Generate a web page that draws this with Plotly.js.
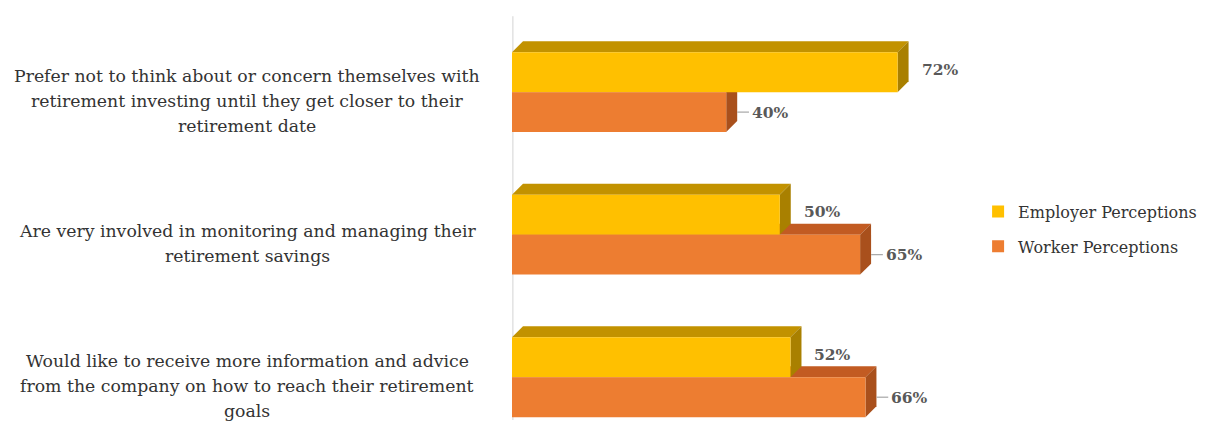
<!DOCTYPE html>
<html>
<head>
<meta charset="utf-8">
<script src="https://cdn.plot.ly/plotly-3.0.1.min.js"></script>
<style>html,body{margin:0;padding:0;background:#fff;}#chart{width:1205px;height:421px;}</style>
</head>
<body>
<div id="chart"></div>
<script>
// ---- data ----
const categories = [
  "Prefer not to think about or concern themselves with<br>retirement investing until they get closer to their<br>retirement date",
  "Are very involved in monitoring and managing their<br>retirement savings",
  "Would like to receive more information and advice<br>from the company on how to reach their retirement<br>goals"
];
const seriesNames = ["Employer Perceptions", "Worker Perceptions"];
const employerValues = [72, 50, 52];
const workerValues = [40, 65, 66];

// ---- styling ----
const FONT = "DejaVu Serif";
const yellow = {front: "#FFC000", top: "#C29200", side: "#A98000"};
const orange = {front: "#ED7D31", top: "#C25B22", side: "#A9501C"};
const BW = 0.28;          // bar thickness (category units)
const DX = 2.05;          // depth in x units
const DY = 0.077;         // depth in y units
const xMax = 90;

const idx = categories.map((c, i) => i);

const traces = [
  {type: "bar", orientation: "h", name: seriesNames[0], x: employerValues, y: idx,
   width: BW, offset: -BW, marker: {color: yellow.front, line: {width: 0}},
   legendgroup: "a", hoverinfo: "x+name"},
  {type: "bar", orientation: "h", name: seriesNames[1], x: workerValues, y: idx,
   width: BW, offset: 0, marker: {color: orange.front, line: {width: 0}},
   legendgroup: "b", hoverinfo: "x+name"}
];

const shapes = [];
// back-wall shadow (soft gradient imitation)
[[-2.2, 0.3, 0.05], [-1.5, 0.3, 0.07], [-0.8, 0.3, 0.08]].forEach(s => {
  shapes.push({type: "rect", xref: "x", yref: "paper", x0: s[0], x1: s[1], y0: 0, y1: 1.03,
    fillcolor: "rgba(110,110,110," + s[2] + ")", line: {width: 0}, layer: "below"});
});

idx.forEach(i => {
  const c = i, w = BW;
  const v = employerValues[i], v2 = workerValues[i];
  // orange (lower) faces first
  shapes.push({type: "path", xref: "x", yref: "y", layer: "below", line: {width: 0}, fillcolor: orange.top,
    path: `M 0,${c} L ${v2},${c} L ${v2 + DX},${c - DY} L ${DX},${c - DY} Z`});
  shapes.push({type: "path", xref: "x", yref: "y", layer: "below", line: {width: 0}, fillcolor: orange.side,
    path: `M ${v2},${c} L ${v2},${c + w} L ${v2 + DX},${c + w - DY} L ${v2 + DX},${c - DY} Z`});
  // yellow (upper) faces
  shapes.push({type: "path", xref: "x", yref: "y", layer: "below", line: {width: 0}, fillcolor: yellow.top,
    path: `M 0,${c - w} L ${v},${c - w} L ${v + DX},${c - w - DY} L ${DX},${c - w - DY} Z`});
  shapes.push({type: "path", xref: "x", yref: "y", layer: "below", line: {width: 0}, fillcolor: yellow.side,
    path: `M ${v},${c - w} L ${v},${c} L ${v + DX},${c - DY} L ${v + DX},${c - w - DY} Z`});
  // leader line for worker label
  shapes.push({type: "line", xref: "x", yref: "y", layer: "above",
    x0: v2 + DX, x1: v2 + DX + 2.2, y0: c + w / 2, y1: c + w / 2,
    line: {color: "#A6A6A6", width: 1.2}});
});

const annotations = [];
idx.forEach(i => {
  annotations.push({xref: "x", yref: "y", x: employerValues[i], y: i - BW / 2, yshift: 3,
    text: employerValues[i] + "%", showarrow: false, xanchor: "left", xshift: 22,
    font: {family: FONT, size: 15.5, color: "#595959", weight: "bold"}});
  annotations.push({xref: "x", yref: "y", x: workerValues[i], y: i + BW / 2,
    text: workerValues[i] + "%", showarrow: false, xanchor: "left", xshift: 24,
    font: {family: FONT, size: 15.5, color: "#595959", weight: "bold"}});
  // category label, one annotation per line to get wider line spacing
  const lines = categories[i].split("<br>");
  const lh = 25;
  lines.forEach((ln, k) => {
    annotations.push({xref: "paper", yref: "y", x: -265 / 482, y: i,
      yshift: -9 - (k - (lines.length - 1) / 2) * lh,
      text: ln, showarrow: false, xanchor: "center",
      font: {family: FONT, size: 17.3, color: "#333333"}});
  });
});

const layout = {
  width: 1205, height: 421,
  margin: {l: 512, r: 211, t: 28, b: 1},
  paper_bgcolor: "#fff", plot_bgcolor: "#fff",
  barmode: "overlay",
  xaxis: {range: [0, xMax], visible: false, fixedrange: true},
  yaxis: {range: [2.3, -0.45], visible: false, fixedrange: true},
  showlegend: true,
  legend: {x: 0.967, xanchor: "left", y: 0.575, yanchor: "top",
    font: {family: FONT, size: 16, color: "#333333"},
    traceorder: "grouped", tracegroupgap: 11, itemwidth: 30,
    bgcolor: "rgba(0,0,0,0)"},
  shapes: shapes,
  annotations: annotations
};

Plotly.newPlot("chart", traces, layout, {displayModeBar: false, staticPlot: true});
</script>
</body>
</html>
